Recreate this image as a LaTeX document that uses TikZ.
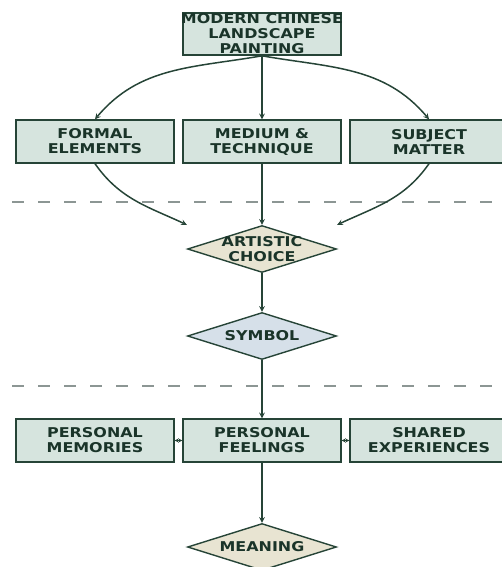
\documentclass[tikz,border=0pt]{standalone}
\usepackage{fontspec}
\usepackage{tikz}
\usetikzlibrary{arrows,shapes,positioning}
\newfontfamily\lblfont{DejaVu Sans}[FakeStretch=1.18]
\definecolor{pgdark}{RGB}{38,68,55}
\definecolor{pgtext}{RGB}{26,52,41}
\definecolor{pgbox}{RGB}{214,228,222}
\definecolor{pgsand}{RGB}{232,228,210}
\definecolor{pgblue}{RGB}{214,224,233}
\definecolor{pggrey}{RGB}{140,150,148}
\tikzstyle{arrow} = [line width=1.5pt,->,>=stealth,color=pgdark]
\tikzstyle{twoway} = [line width=0.8pt,<->,>=stealth,color=pgdark]
\tikzstyle{lbl} = [font=\lblfont\bfseries\fontsize{13.5}{15}\selectfont, text=pgtext, align=center]
\tikzstyle{box} = [rectangle, lbl, minimum width=158pt, minimum height=43pt, inner sep=0pt, draw=pgdark, fill=pgbox, line width=1.4pt]
\tikzstyle{decision} = [diamond, minimum width=149pt, minimum height=47pt, inner sep=0pt, draw=pgdark, line width=1.4pt]
\tikzstyle{divider} = [line width=1.2pt, pggrey, dash pattern=on 12pt off 14pt]

\begin{document}
\begin{tikzpicture}[x=1pt, y=1pt]
\useasboundingbox (0,0) rectangle (502,-567);

% Painting and its three aspects
\node (top) [box, inner xsep=-3.5pt, inner ysep=1pt, minimum height=42pt] at (262,-34) {MODERN CHINESE\\LANDSCAPE\\PAINTING};
\node (medium) [box, below of=top, node distance=107.5pt] {MEDIUM \&\\TECHNIQUE};
\node (formal) [box, left of=medium, node distance=167pt] {FORMAL\\ELEMENTS};
\node (subject) [box, right of=medium, node distance=167pt] {SUBJECT\\MATTER};

% Choice and symbol
\node (choice) [decision, fill=pgsand, below of=medium, node distance=107.5pt, label={[lbl]center:ARTISTIC\\CHOICE}] {};
\node (symbol) [decision, fill=pgblue, below of=choice, node distance=87pt, label={[lbl]center:SYMBOL}] {};

% Reading of the symbol
\node (feelings) [box, below of=symbol, node distance=104.5pt] {PERSONAL\\FEELINGS};
\node (memories) [box, left of=feelings, node distance=167pt] {PERSONAL\\MEMORIES};
\node (shared) [box, right of=feelings, node distance=167pt] {SHARED\\EXPERIENCES};
\node (meaning) [decision, fill=pgsand, below of=feelings, node distance=106.5pt, label={[lbl]center:MEANING}] {};

\draw[divider] (12,-202) -- (510,-202);
\draw[divider] (12,-386) -- (510,-386);

\draw[arrow] (top.south) to[out=190, in=50] (formal.north);
\draw[arrow] (top) -- (medium);
\draw[arrow] (top.south) to[out=-10, in=130] (subject.north);
\draw[arrow] (formal.south) to[out=-55, in=155] (choice.west |- choice.north);
\draw[arrow] (medium) -- (choice);
\draw[arrow] (subject.south) to[out=-125, in=25] (choice.east |- choice.north);
\draw[arrow] (choice) -- (symbol);
\draw[arrow] (symbol) -- (feelings);
\draw[arrow] (feelings) -- (meaning);
\draw[twoway] (memories) -- (feelings);
\draw[twoway] (feelings) -- (shared);
\end{tikzpicture}
\end{document}
